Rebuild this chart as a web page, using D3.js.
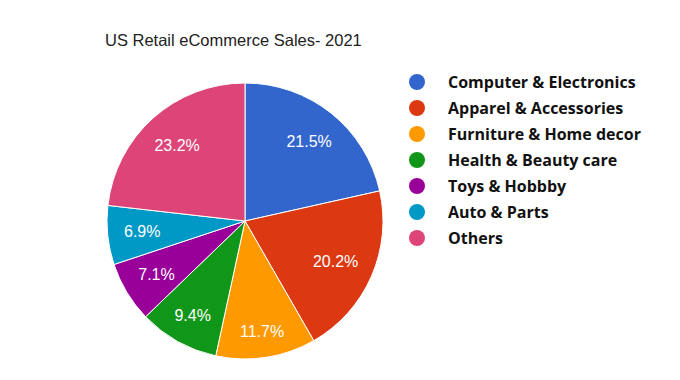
<!DOCTYPE html>
<html>
<head>
<meta charset="utf-8">
<style>
body { margin: 0; background: #fff; }
</style>
</head>
<body>
<svg id="viz"></svg>
<script src="https://cdn.jsdelivr.net/npm/d3@7"></script>
<script>
var width = 680;
var height = 380;

var categories = ["Computer & Electronics", "Apparel & Accessories", "Furniture & Home decor",
  "Health & Beauty care", "Toys & Hobbby", "Auto & Parts", "Others"];
var shares = [21.5, 20.2, 11.7, 9.4, 7.1, 6.9, 23.2];
var colors = ["#3366cc", "#dc3912", "#ff9900", "#109618", "#990099", "#0099c6", "#dd4477"];

var svg = d3.select("#viz").attr("width", width).attr("height", height);

svg.append("text")
  .attr("x", 105)
  .attr("y", 46)
  .style("font-family", "Liberation Sans, Arial, sans-serif")
  .style("font-size", "16.5px")
  .style("fill", "#222")
  .text("US Retail eCommerce Sales- 2021");

var cx = 245, cy = 221, radius = 138;

var pie = d3.pie().sort(null).value(function(d) { return d; });
var arc = d3.arc().innerRadius(0).outerRadius(radius);

var g = svg.append("g").attr("transform", "translate(" + cx + "," + cy + ")");

var slices = pie(shares);

g.selectAll("path")
  .data(slices)
  .enter()
  .append("path")
  .attr("d", arc)
  .attr("fill", function(d, i) { return colors[i]; })
  .attr("stroke", "#fff")
  .attr("stroke-width", 1);

// labels: pushed out along the mid angle until the outer corner of the text box
// touches a fixed inner ring (like google charts does it)
var labelRing = radius * 0.885;
var halfH = 5.8;

g.selectAll("text")
  .data(slices)
  .enter()
  .append("text")
  .attr("text-anchor", "middle")
  .attr("dy", "0.36em")
  .style("font-family", "Liberation Sans, Arial, sans-serif")
  .style("font-size", "16px")
  .style("fill", "#fff")
  .text(function(d) { return d.data.toFixed(1) + "%"; })
  .each(function(d) {
    var mid = (d.startAngle + d.endAngle) / 2;
    var dx = Math.sin(mid), dy = -Math.cos(mid);
    var a = (dx < 0 ? -1 : 1) * this.getBBox().width / 2;
    var b = (dy < 0 ? -1 : 1) * halfH;
    var p = dx * a + dy * b;
    var t = -p + Math.sqrt(p * p - (a * a + b * b - labelRing * labelRing));
    d3.select(this).attr("transform", "translate(" + (t * dx) + "," + (t * dy) + ")");
  });

// legend
var legend = svg.append("g").selectAll("g")
  .data(categories)
  .enter()
  .append("g")
  .attr("transform", function(d, i) { return "translate(417," + (82 + i * 26) + ")"; });

legend.append("circle")
  .attr("r", 8)
  .attr("fill", function(d, i) { return colors[i]; });

legend.append("text")
  .attr("x", 31)
  .attr("dy", "0.36em")
  .style("font-family", "Open Sans, sans-serif")
  .style("font-weight", "bold")
  .style("font-size", "16px")
  .style("fill", "#111")
  .text(function(d) { return d; });
</script>
</body>
</html>
